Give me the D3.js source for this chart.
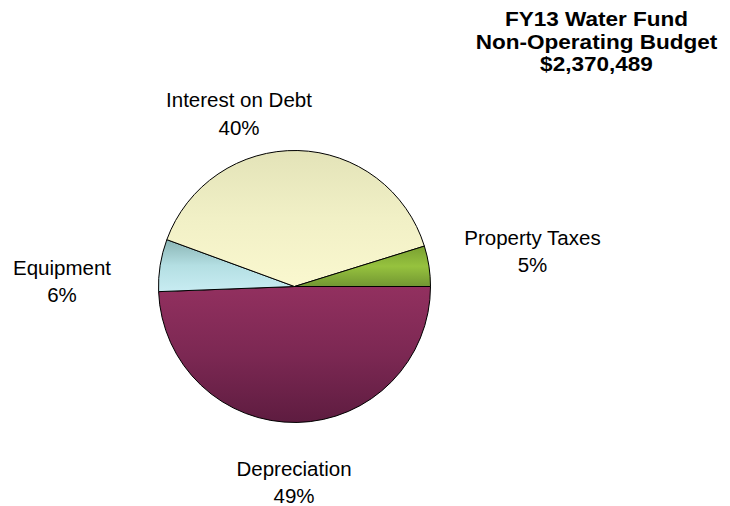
<!DOCTYPE html>
<html>
<head>
<meta charset="utf-8">
<script src="https://cdn.jsdelivr.net/npm/d3@7"></script>
<style>
  html, body { margin: 0; padding: 0; background: #ffffff; }
  svg { display: block; font-family: "Liberation Sans", Arial, sans-serif; }
</style>
</head>
<body>
<svg id="chart" width="730" height="506"></svg>
<script>
// FY13 Water Fund non-operating budget, total $2,370,489
const categories = ["Depreciation", "Equipment", "Interest on Debt", "Property Taxes"];
const amounts = [1171021, 146970, 938714, 113784];
const titleLines = ["FY13 Water Fund", "Non-Operating Budget", "$2,370,489"];

// gradient stops per slice: [top, middle, bottom]
const sliceColors = [
  ["#92305f", "#7c2853", "#5e1c40"],
  ["#8ab4b4", "#b4dfe3", "#c8ecf2"],
  ["#e3e3b8", "#f1f0c6", "#faf8cf"],
  ["#79a032", "#96c23e", "#729632"]
];
// label anchor positions (text centre x, first baseline y)
const labelPos = [[294, 475.5], [62, 274.5], [239, 107], [532.5, 244.5]];

const svg = d3.select("#chart");
const cx = 294.5, cy = 286.5, r = 136;

const total = d3.sum(amounts);
const data = categories.map((c, i) => ({ name: c, value: amounts[i], i }));

const pie = d3.pie()
  .value(d => d.value)
  .sort(null)
  .startAngle(Math.PI / 2)
  .endAngle(Math.PI / 2 + 2 * Math.PI);

const arc = d3.arc().innerRadius(0).outerRadius(r);
const arcs = pie(data);

const defs = svg.append("defs");
arcs.forEach((a, i) => {
  // vertical gradient spanning the slice's own bounding box
  const tmp = svg.append("path").attr("d", arc(a)).attr("visibility", "hidden");
  const bb = tmp.node().getBBox();
  tmp.remove();
  const g = defs.append("linearGradient")
    .attr("id", "grad" + i)
    .attr("gradientUnits", "userSpaceOnUse")
    .attr("x1", 0).attr("x2", 0)
    .attr("y1", bb.y).attr("y2", bb.y + bb.height);
  g.append("stop").attr("offset", "0%").attr("stop-color", sliceColors[i][0]);
  g.append("stop").attr("offset", "50%").attr("stop-color", sliceColors[i][1]);
  g.append("stop").attr("offset", "100%").attr("stop-color", sliceColors[i][2]);
});

const pieG = svg.append("g").attr("transform", `translate(${cx},${cy})`);
pieG.selectAll("path.slice")
  .data(arcs)
  .join("path")
  .attr("class", "slice")
  .attr("d", arc)
  .attr("fill", (d, i) => `url(#grad${i})`)
  .attr("stroke", "#000000")
  .attr("stroke-width", 1)
  .attr("stroke-linejoin", "round");

// category labels with percentages
const fmtPct = v => Math.round(v / total * 100) + "%";
const labels = svg.append("g")
  .attr("font-size", 20.5)
  .attr("fill", "#000000")
  .attr("text-anchor", "middle");
arcs.forEach((a, i) => {
  const t = labels.append("text")
    .attr("x", labelPos[i][0])
    .attr("y", labelPos[i][1]);
  t.append("tspan").attr("x", labelPos[i][0]).text(a.data.name);
  t.append("tspan").attr("x", labelPos[i][0]).attr("dy", 27.5).text(fmtPct(a.data.value));
});

// title block, slightly widened bold face
const title = svg.append("g")
  .attr("transform", "translate(596.5,0) scale(1.1,1)")
  .attr("font-size", 20.5)
  .attr("font-weight", "bold")
  .attr("fill", "#000000")
  .attr("text-anchor", "middle");
titleLines.forEach((line, i) => {
  title.append("text").attr("x", 0).attr("y", 26.5 + i * 22.5).text(line);
});
</script>
</body>
</html>
